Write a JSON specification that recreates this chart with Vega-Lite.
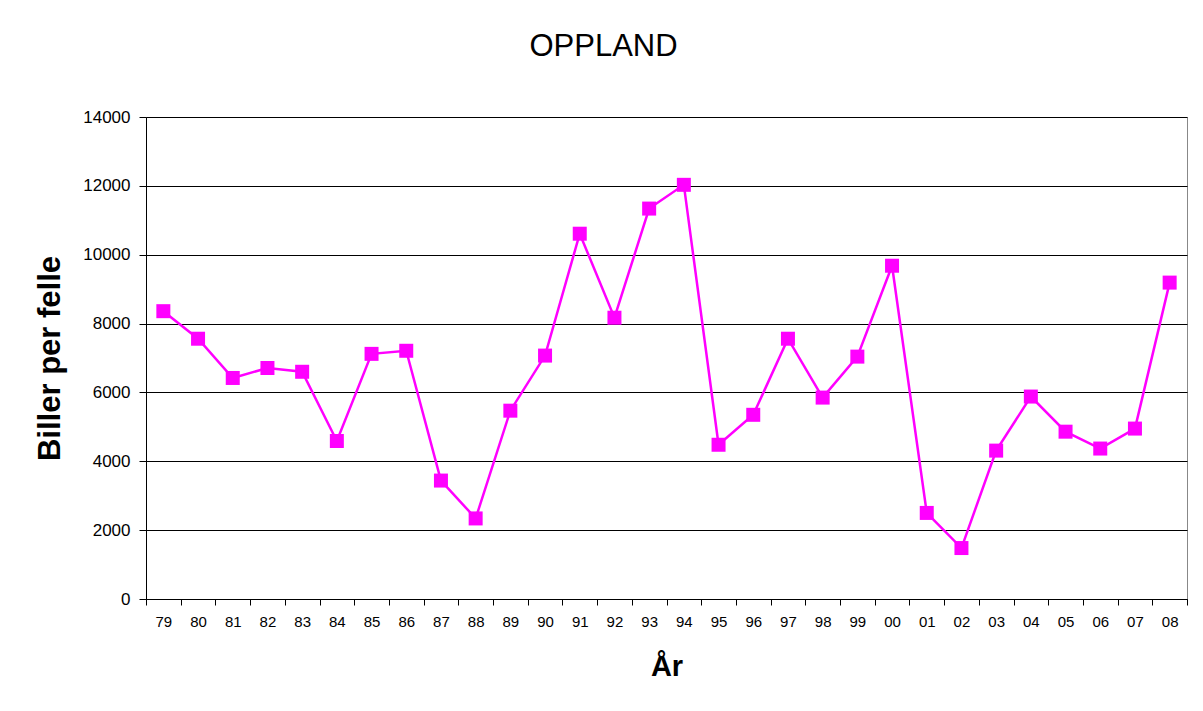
{
  "$schema": "https://vega.github.io/schema/vega-lite/v6.json",
  "autosize": "none",
  "width": 1041,
  "height": 482,
  "padding": {"left": 146, "top": 117, "right": 16, "bottom": 112},
  "background": "white",
  "title": {"text": "OPPLAND", "font": "Liberation Sans", "fontSize": 31, "fontWeight": "normal", "color": "black", "offset": 45, "dx": -63, "anchor": "middle"},
  "data": {"values": [
    {"year": "79", "value": 8360},
    {"year": "80", "value": 7560},
    {"year": "81", "value": 6420},
    {"year": "82", "value": 6710},
    {"year": "83", "value": 6600},
    {"year": "84", "value": 4590},
    {"year": "85", "value": 7120},
    {"year": "86", "value": 7210},
    {"year": "87", "value": 3440},
    {"year": "88", "value": 2340},
    {"year": "89", "value": 5470},
    {"year": "90", "value": 7070},
    {"year": "91", "value": 10610},
    {"year": "92", "value": 8170},
    {"year": "93", "value": 11340},
    {"year": "94", "value": 12030},
    {"year": "95", "value": 4480},
    {"year": "96", "value": 5350},
    {"year": "97", "value": 7560},
    {"year": "98", "value": 5850},
    {"year": "99", "value": 7040},
    {"year": "00", "value": 9680},
    {"year": "01", "value": 2500},
    {"year": "02", "value": 1480},
    {"year": "03", "value": 4310},
    {"year": "04", "value": 5880},
    {"year": "05", "value": 4860},
    {"year": "06", "value": 4370},
    {"year": "07", "value": 4950},
    {"year": "08", "value": 9190}
  ]},
  "encoding": {
    "x": {"field": "year", "type": "ordinal", "sort": null,
      "scale": {"type": "band", "paddingInner": 0, "paddingOuter": 0},
      "axis": {"title": "År", "labelAngle": 0, "tickBand": "extent", "grid": false,
        "domainColor": "black", "tickColor": "black", "tickSize": 6,
        "labelFont": "Liberation Sans", "labelFontSize": 15, "labelColor": "black", "labelPadding": 9,
        "titleFont": "Liberation Sans", "titleFontSize": 29, "titleFontWeight": "bold", "titleColor": "black", "titlePadding": 23}},
    "y": {"field": "value", "type": "quantitative",
      "scale": {"domain": [0, 14000], "nice": false},
      "axis": {"title": "Biller per felle", "values": [0, 2000, 4000, 6000, 8000, 10000, 12000, 14000],
        "format": "d", "grid": true, "gridColor": "black", "gridWidth": 1, "gridOpacity": 1,
        "domainColor": "black", "tickColor": "black", "tickSize": 7,
        "labelFont": "Liberation Sans", "labelFontSize": 17, "labelColor": "black", "labelPadding": 9,
        "titleFont": "Liberation Sans", "titleFontSize": 31, "titleFontWeight": "bold", "titleColor": "black", "titlePadding": 16}}
  },
  "layer": [
    {"mark": {"type": "line", "color": "#FF00FF", "strokeWidth": 2.5}},
    {"mark": {"type": "point", "shape": "square", "filled": true, "size": 196, "color": "#FF00FF", "opacity": 1}}
  ],
  "config": {"view": {"stroke": "#888888", "strokeWidth": 1}}
}
